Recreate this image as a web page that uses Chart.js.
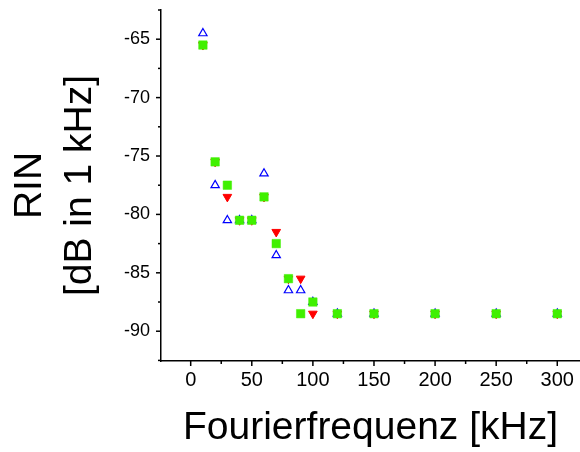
<!DOCTYPE html>
<html>
<head>
<meta charset="utf-8">
<script src="https://cdn.jsdelivr.net/npm/chart.js@4/dist/chart.umd.min.js"></script>
<style>
  html, body { margin: 0; padding: 0; background: #fff; }
  canvas { display: block; }
</style>
</head>
<body>
<canvas id="Chart" width="580" height="452"></canvas>
<script>
// Fourierfrequenz in kHz
const freq = [10, 20, 30, 40, 50, 60, 70, 80, 90, 100, 120, 150, 200, 250, 300];
// RIN values, dB in 1 kHz
const rinBlue  = [-64.5, -77.5, -80.5, -80.5, -80.5, -76.5, -83.5, -86.5, -86.5, -87.5, -88.5, -88.5, -88.5, -88.5, -88.5];
const rinRed   = [-65.5, -75.5, -78.5, -80.5, -80.5, -78.5, -81.5, -85.5, -85.5, -88.5, -88.5, -88.5, -88.5, -88.5, -88.5];
const rinGreen = [-65.5, -75.5, -77.5, -80.5, -80.5, -78.5, -82.5, -85.5, -88.5, -87.5, -88.5, -88.5, -88.5, -88.5, -88.5];

const xTicks = [0, 25, 50, 75, 100, 125, 150, 175, 200, 225, 250, 275, 300];
const yTicks = [-92.5, -90, -87.5, -85, -82.5, -80, -77.5, -75, -72.5, -70, -67.5, -65, -62.5];

const pts = ys => freq.map((f, i) => ({x: f, y: ys[i]}));

// tick marks: long for labelled ticks, short for the in-between ones
const tickMarks = {
    id: 'tickMarks',
    afterDraw(chart) {
        const ctx = chart.ctx;
        const xs = chart.scales.x, ys = chart.scales.y;
        ctx.save();
        ctx.strokeStyle = '#000';
        ctx.lineWidth = 1.5;
        xs.ticks.forEach(t => {
            const px = xs.getPixelForValue(t.value);
            const len = t.value % 50 === 0 ? 5 : 3;
            ctx.beginPath();
            ctx.moveTo(px, xs.top);
            ctx.lineTo(px, xs.top + len);
            ctx.stroke();
        });
        ys.ticks.forEach(t => {
            const py = ys.getPixelForValue(t.value);
            const len = t.value % 5 === 0 ? 5 : 3;
            ctx.beginPath();
            ctx.moveTo(ys.right, py);
            ctx.lineTo(ys.right - len, py);
            ctx.stroke();
        });
        ctx.restore();
    }
};

new Chart(document.getElementById('Chart').getContext('2d'), {
    type: 'scatter',
    data: {
        datasets: [
            {
                data: pts(rinBlue),
                pointStyle: 'triangle',
                pointRadius: 4.8,
                borderColor: '#0000ff',
                backgroundColor: 'rgba(0,0,0,0)',
                borderWidth: 1.2,
                order: 2
            },
            {
                data: pts(rinRed),
                pointStyle: 'triangle',
                rotation: 180,
                pointRadius: 5,
                borderColor: '#ff0000',
                backgroundColor: '#ff0000',
                borderWidth: 1,
                order: 1
            },
            {
                data: pts(rinGreen),
                pointStyle: 'rect',
                pointRadius: 6,
                borderColor: '#40f000',
                backgroundColor: '#40f000',
                borderWidth: 0.5,
                order: 0
            }
        ]
    },
    options: {
        responsive: false,
        animation: false,
        layout: { autoPadding: false, padding: { top: 10, right: 0, left: 0, bottom: 0 } },
        plugins: { legend: { display: false }, tooltip: { enabled: false } },
        scales: {
            x: {
                type: 'linear',
                min: -24.3,
                max: 318.6,
                afterBuildTicks: s => { s.ticks = xTicks.map(v => ({value: v})); },
                afterFit: s => { s.height = 91; s.paddingLeft = 0; s.paddingRight = 0; },
                grid: { drawOnChartArea: false, drawTicks: false },
                border: { color: '#000', width: 1.5 },
                ticks: {
                    autoSkip: false,
                    maxRotation: 0,
                    padding: 7,
                    color: '#000',
                    font: { family: "'Liberation Sans Narrow', 'Liberation Sans', Arial, sans-serif", size: 20 },
                    callback: v => (v % 50 === 0 ? String(v) : '')
                },
                title: {
                    display: true,
                    text: 'Fourierfrequenz [kHz]',
                    color: '#000',
                    font: { family: "'Liberation Sans', Arial, sans-serif", size: 39, lineHeight: 1.2 },
                    padding: { top: 0, bottom: 0 }
                }
            },
            y: {
                type: 'linear',
                min: -92.55,
                max: -62.5,
                afterBuildTicks: s => { s.ticks = yTicks.map(v => ({value: v})); },
                afterFit: s => { s.width = 161; s.paddingTop = 0; s.paddingBottom = 0; },
                grid: { drawOnChartArea: false, drawTicks: false },
                border: { color: '#000', width: 1.5 },
                ticks: {
                    autoSkip: false,
                    padding: 11,
                    color: '#000',
                    font: { family: "'Liberation Sans', Arial, sans-serif", size: 18 },
                    callback: v => (v % 5 === 0 ? String(v) : '')
                },
                title: {
                    display: true,
                    text: ['RIN', '[dB in 1 kHz]'],
                    color: '#000',
                    font: { family: "'Liberation Sans', Arial, sans-serif", size: 39, lineHeight: 1.28 },
                    padding: { top: 5, bottom: 0 }
                }
            }
        }
    },
    plugins: [tickMarks]
});
</script>
</body>
</html>
